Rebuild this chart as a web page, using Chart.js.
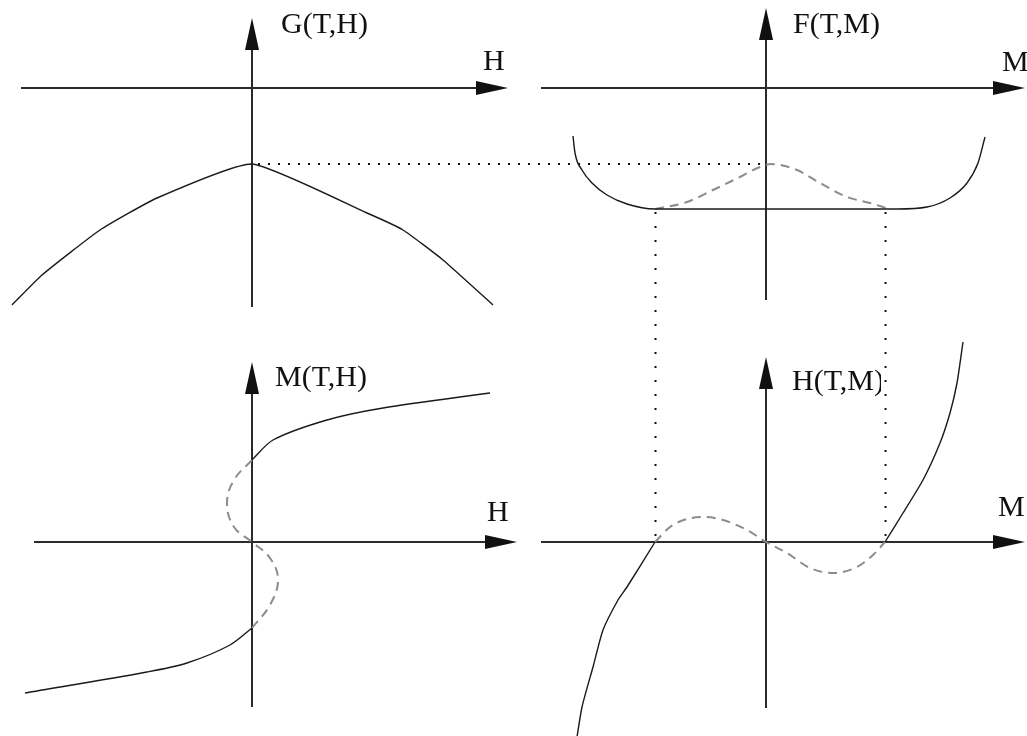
<!DOCTYPE html>
<html>
<head>
<meta charset="utf-8">
<script src="https://cdn.jsdelivr.net/npm/chart.js@4.4.1/dist/chart.umd.min.js"></script>
<style>
  html, body { margin: 0; padding: 0; background: #fff; }
  #wrap { position: relative; width: 1027px; height: 736px; }
</style>
</head>
<body>
<div id="wrap"><canvas id="diagram" width="1027" height="736"></canvas></div>
<script>
// G(T,H) : free enthalpy against field
var gField  = [-2.40, -2.10, -1.52, -0.95, 0, 1.15, 1.51, 1.91, 2.41];
var gEnergy = [-2.17, -1.87, -1.42, -1.10, -0.76, -1.25, -1.42, -1.72, -2.17];

// F(T,M) : free energy against magnetisation (equal-area line + the two wings)
var fMagStable    = [-1.93, -1.91, -1.84, -1.74, -1.59, -1.39, -1.11, 1.31, 1.61, 1.84, 2.01, 2.12, 2.19];
var fEnergyStable = [-0.48, -0.65, -0.82, -0.95, -1.07, -1.16, -1.21, -1.21, -1.19, -1.10, -0.95, -0.75, -0.49];
// unstable hump under the flat part
var fMagUnstable    = [-1.11, -0.79, -0.53, -0.26, -0.06, 0.05, 0.31, 0.54, 0.81, 1.04, 1.20];
var fEnergyUnstable = [-1.21, -1.14, -1.02, -0.89, -0.79, -0.76, -0.82, -0.95, -1.09, -1.15, -1.20];

// M(T,H) : magnetisation against field
var mFieldLow  = [-2.27, -1.05, -0.65, -0.22, 0];
var mMagLow    = [-1.51, -1.30, -1.21, -1.03, -0.86];
var mFieldMid  = [0, 0.18, 0.26, 0.18, 0, -0.18, -0.25, -0.18, 0];
var mMagMid    = [-0.86, -0.63, -0.38, -0.16, 0, 0.15, 0.39, 0.62, 0.82];
var mFieldHigh = [0, 0.21, 0.75, 1.31, 2.38];
var mMagHigh   = [0.82, 1.02, 1.22, 1.34, 1.49];

// H(T,M) : field against magnetisation
var hMagLow    = [-1.91, -1.84, -1.73, -1.63, -1.48, -1.39, -1.11];
var hFieldLow  = [-2.08, -1.65, -1.25, -0.88, -0.58, -0.45, 0];
var hMagMid    = [-1.11, -0.96, -0.79, -0.61, -0.43, -0.19, 0, 0.21, 0.44, 0.67, 0.91, 1.07, 1.19];
var hFieldMid  = [0, 0.15, 0.23, 0.25, 0.22, 0.12, 0, -0.11, -0.26, -0.31, -0.25, -0.13, 0];
var hMagHigh   = [1.19, 1.37, 1.57, 1.74, 1.84, 1.91, 1.97];
var hFieldHigh = [0, 0.29, 0.62, 0.99, 1.29, 1.59, 2.00];

// axis names
var axisTitles = ["G(T,H)", "F(T,M)", "M(T,H)", "H(T,M)"];
var axisVars   = ["H", "M", "H", "M"];

// ---- layout ----
var CW = 1027, CH = 736;
var UNIT = 100;                 // px per data unit, same in every panel
var LEFT_X = 252, RIGHT_X = 766, TOP_Y = 88, BOTTOM_Y = 542;

function xRange(origin) { return { min: -origin / UNIT, max: (CW - origin) / UNIT }; }
function yRange(origin) { return { min: -(CH - origin) / UNIT, max: origin / UNIT }; }

function pts(xs, ys) {
  return xs.map(function(v, i) { return { x: v, y: ys[i] }; });
}

var SOLID = "#1a1a1a";
var DASHED = "#8c8c8c";

function curve(xs, ys, xId, yId, dashed, extra) {
  var ds = {
    data: pts(xs, ys),
    xAxisID: xId,
    yAxisID: yId,
    showLine: true,
    fill: false,
    pointRadius: 0,
    borderColor: dashed ? DASHED : SOLID,
    borderWidth: dashed ? 2 : 1.4,
    borderDash: dashed ? [9, 6] : [],
    tension: 0.3
  };
  for (var k in extra) ds[k] = extra[k];
  return ds;
}

// axis extents and labels per panel, in that panel's units
var panels = [
  { x: "xL", y: "yT", xFrom: -2.31, xTo: 2.56, yFrom: -2.19, yTo: 0.70,
    title: [0.29, 0.63], varPos: [2.31, 0.26] },
  { x: "xR", y: "yT", xFrom: -2.25, xTo: 2.59, yFrom: -2.12, yTo: 0.80,
    title: [0.27, 0.63], varPos: [2.36, 0.25] },
  { x: "xL", y: "yB", xFrom: -2.18, xTo: 2.65, yFrom: -1.65, yTo: 1.80,
    title: [0.23, 1.64], varPos: [2.35, 0.29] },
  { x: "xR", y: "yB", xFrom: -2.25, xTo: 2.59, yFrom: -1.66, yTo: 1.85,
    title: [0.26, 1.60], varPos: [2.32, 0.34] }
];

function arrow(ctx, x, y, dir) {
  var len = 32, half = 7;
  ctx.beginPath();
  if (dir === "right") {
    ctx.moveTo(x, y); ctx.lineTo(x - len, y - half); ctx.lineTo(x - len, y + half);
  } else {
    ctx.moveTo(x, y); ctx.lineTo(x - half, y + len); ctx.lineTo(x + half, y + len);
  }
  ctx.closePath();
  ctx.fill();
}

var axesPlugin = {
  id: "crossAxes",
  beforeDatasetsDraw: function(chart) {
    var ctx = chart.ctx;
    ctx.save();
    ctx.strokeStyle = "#2b2b2b";
    ctx.fillStyle = "#111";
    ctx.lineWidth = 2;
    panels.forEach(function(p) {
      var sx = chart.scales[p.x], sy = chart.scales[p.y];
      var ox = sx.getPixelForValue(0), oy = sy.getPixelForValue(0);
      var x0 = sx.getPixelForValue(p.xFrom), x1 = sx.getPixelForValue(p.xTo);
      var y0 = sy.getPixelForValue(p.yFrom), y1 = sy.getPixelForValue(p.yTo);
      ctx.beginPath();
      ctx.moveTo(x0, oy); ctx.lineTo(x1 - 20, oy);
      ctx.moveTo(ox, y0); ctx.lineTo(ox, y1 + 20);
      ctx.stroke();
      arrow(ctx, x1, oy, "right");
      arrow(ctx, ox, y1, "up");
    });
    ctx.restore();
  },
  afterDatasetsDraw: function(chart) {
    var ctx = chart.ctx;
    var sc = chart.scales;
    ctx.save();
    ctx.font = '30px "Liberation Serif", "Times New Roman", serif';
    ctx.fillStyle = "#111";
    ctx.textBaseline = "middle";
    ctx.textAlign = "left";
    panels.forEach(function(p, i) {
      var sx = sc[p.x], sy = sc[p.y];
      ctx.fillText(axisTitles[i], sx.getPixelForValue(p.title[0]), sy.getPixelForValue(p.title[1]));
      ctx.fillText(axisVars[i], sx.getPixelForValue(p.varPos[0]), sy.getPixelForValue(p.varPos[1]));
    });

    // G maximum carried over to the top of the F hump
    var gMax = gEnergy[gField.indexOf(0)];
    var yLine = sc.yT.getPixelForValue(gMax);
    ctx.strokeStyle = "#111";
    ctx.lineWidth = 2;
    ctx.setLineDash([2, 8]);
    ctx.beginPath();
    ctx.moveTo(sc.xL.getPixelForValue(0) + 6, yLine);
    ctx.lineTo(sc.xR.getPixelForValue(0), yLine);
    ctx.stroke();

    // coexisting magnetisations: from the flat part of F down to H = 0
    var coexist = [hMagMid[0], hMagMid[hMagMid.length - 1]];
    var fMin = Math.min.apply(null, fEnergyStable);
    var yTop = sc.yT.getPixelForValue(fMin) + 3;
    var yBot = sc.yB.getPixelForValue(0) - 6;
    coexist.forEach(function(m) {
      var x = Math.round(sc.xR.getPixelForValue(m)) + 0.5;
      ctx.setLineDash([]);
      ctx.strokeStyle = "#fff";
      ctx.lineWidth = 9;
      ctx.beginPath();
      ctx.moveTo(x, yTop); ctx.lineTo(x, sc.yB.getPixelForValue(0.15));
      ctx.stroke();
      ctx.strokeStyle = "#111";
      ctx.lineWidth = 2;
      ctx.setLineDash([2, 12]);
      ctx.beginPath();
      ctx.moveTo(x, yTop); ctx.lineTo(x, yBot);
      ctx.stroke();
    });
    ctx.restore();
  }
};

var rl = xRange(LEFT_X), rr = xRange(RIGHT_X), rt = yRange(TOP_Y), rb = yRange(BOTTOM_Y);

new Chart(document.getElementById("diagram").getContext("2d"), {
  type: "scatter",
  data: {
    datasets: [
      curve(gField, gEnergy, "xL", "yT", false, { tension: 0.15 }),
      curve(fMagStable, fEnergyStable, "xR", "yT", false, { cubicInterpolationMode: "monotone" }),
      curve(fMagUnstable, fEnergyUnstable, "xR", "yT", true, { cubicInterpolationMode: "monotone" }),
      curve(mFieldLow, mMagLow, "xL", "yB", false),
      curve(mFieldMid, mMagMid, "xL", "yB", true, { tension: 0.4 }),
      curve(mFieldHigh, mMagHigh, "xL", "yB", false),
      curve(hMagLow, hFieldLow, "xR", "yB", false, { tension: 0.2 }),
      curve(hMagMid, hFieldMid, "xR", "yB", true, { cubicInterpolationMode: "monotone" }),
      curve(hMagHigh, hFieldHigh, "xR", "yB", false, { tension: 0.2 })
    ]
  },
  options: {
    responsive: false,
    animation: false,
    events: [],
    layout: { padding: 0 },
    plugins: { legend: { display: false }, tooltip: { enabled: false } },
    scales: {
      xL: { type: "linear", display: false, min: rl.min, max: rl.max },
      xR: { type: "linear", display: false, min: rr.min, max: rr.max },
      yT: { type: "linear", display: false, min: rt.min, max: rt.max },
      yB: { type: "linear", display: false, min: rb.min, max: rb.max }
    }
  },
  plugins: [axesPlugin]
});
</script>
</body>
</html>
